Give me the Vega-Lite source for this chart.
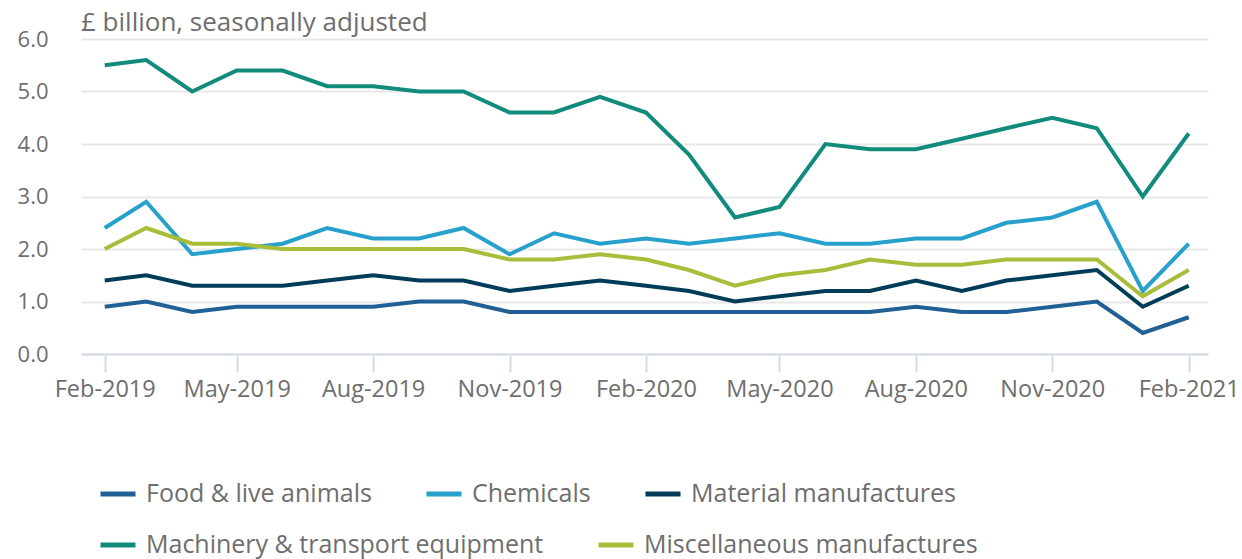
{
  "$schema": "https://vega.github.io/schema/vega-lite/v6.json",
  "autosize": {"type": "none"},
  "width": 1127,
  "height": 315,
  "padding": {"left": 81, "top": 39, "right": 34, "bottom": 205},
  "background": "white",
  "config": {
    "font": "Open Sans",
    "view": {"stroke": null},
    "title": {"font": "Open Sans"},
    "axis": {"labelFont": "Open Sans"},
    "legend": {
      "labelFont": "Open Sans",
      "title": null,
      "symbolType": "stroke",
      "symbolSize": 1225,
      "symbolStrokeWidth": 5,
      "labelOffset": 8,
      "labelFontSize": 25,
      "labelLimit": 0,
      "labelColor": "#6e6e6e",
      "columnPadding": 44,
      "padding": 0
    }
  },
  "title": {
    "text": "£ billion, seasonally adjusted",
    "anchor": "start",
    "frame": "group",
    "orient": "top",
    "baseline": "alphabetic",
    "offset": -29,
    "fontSize": 26,
    "fontWeight": "normal",
    "color": "#6e6e6e"
  },
  "data": {
    "values": [
      {"d": "2019-02-01", "s": "Food & live animals", "v": 0.9},
      {"d": "2019-03-01", "s": "Food & live animals", "v": 1.0},
      {"d": "2019-04-01", "s": "Food & live animals", "v": 0.8},
      {"d": "2019-05-01", "s": "Food & live animals", "v": 0.9},
      {"d": "2019-06-01", "s": "Food & live animals", "v": 0.9},
      {"d": "2019-07-01", "s": "Food & live animals", "v": 0.9},
      {"d": "2019-08-01", "s": "Food & live animals", "v": 0.9},
      {"d": "2019-09-01", "s": "Food & live animals", "v": 1.0},
      {"d": "2019-10-01", "s": "Food & live animals", "v": 1.0},
      {"d": "2019-11-01", "s": "Food & live animals", "v": 0.8},
      {"d": "2019-12-01", "s": "Food & live animals", "v": 0.8},
      {"d": "2020-01-01", "s": "Food & live animals", "v": 0.8},
      {"d": "2020-02-01", "s": "Food & live animals", "v": 0.8},
      {"d": "2020-03-01", "s": "Food & live animals", "v": 0.8},
      {"d": "2020-04-01", "s": "Food & live animals", "v": 0.8},
      {"d": "2020-05-01", "s": "Food & live animals", "v": 0.8},
      {"d": "2020-06-01", "s": "Food & live animals", "v": 0.8},
      {"d": "2020-07-01", "s": "Food & live animals", "v": 0.8},
      {"d": "2020-08-01", "s": "Food & live animals", "v": 0.9},
      {"d": "2020-09-01", "s": "Food & live animals", "v": 0.8},
      {"d": "2020-10-01", "s": "Food & live animals", "v": 0.8},
      {"d": "2020-11-01", "s": "Food & live animals", "v": 0.9},
      {"d": "2020-12-01", "s": "Food & live animals", "v": 1.0},
      {"d": "2021-01-01", "s": "Food & live animals", "v": 0.4},
      {"d": "2021-02-01", "s": "Food & live animals", "v": 0.7},
      {"d": "2019-02-01", "s": "Chemicals", "v": 2.4},
      {"d": "2019-03-01", "s": "Chemicals", "v": 2.9},
      {"d": "2019-04-01", "s": "Chemicals", "v": 1.9},
      {"d": "2019-05-01", "s": "Chemicals", "v": 2.0},
      {"d": "2019-06-01", "s": "Chemicals", "v": 2.1},
      {"d": "2019-07-01", "s": "Chemicals", "v": 2.4},
      {"d": "2019-08-01", "s": "Chemicals", "v": 2.2},
      {"d": "2019-09-01", "s": "Chemicals", "v": 2.2},
      {"d": "2019-10-01", "s": "Chemicals", "v": 2.4},
      {"d": "2019-11-01", "s": "Chemicals", "v": 1.9},
      {"d": "2019-12-01", "s": "Chemicals", "v": 2.3},
      {"d": "2020-01-01", "s": "Chemicals", "v": 2.1},
      {"d": "2020-02-01", "s": "Chemicals", "v": 2.2},
      {"d": "2020-03-01", "s": "Chemicals", "v": 2.1},
      {"d": "2020-04-01", "s": "Chemicals", "v": 2.2},
      {"d": "2020-05-01", "s": "Chemicals", "v": 2.3},
      {"d": "2020-06-01", "s": "Chemicals", "v": 2.1},
      {"d": "2020-07-01", "s": "Chemicals", "v": 2.1},
      {"d": "2020-08-01", "s": "Chemicals", "v": 2.2},
      {"d": "2020-09-01", "s": "Chemicals", "v": 2.2},
      {"d": "2020-10-01", "s": "Chemicals", "v": 2.5},
      {"d": "2020-11-01", "s": "Chemicals", "v": 2.6},
      {"d": "2020-12-01", "s": "Chemicals", "v": 2.9},
      {"d": "2021-01-01", "s": "Chemicals", "v": 1.2},
      {"d": "2021-02-01", "s": "Chemicals", "v": 2.1},
      {"d": "2019-02-01", "s": "Material manufactures", "v": 1.4},
      {"d": "2019-03-01", "s": "Material manufactures", "v": 1.5},
      {"d": "2019-04-01", "s": "Material manufactures", "v": 1.3},
      {"d": "2019-05-01", "s": "Material manufactures", "v": 1.3},
      {"d": "2019-06-01", "s": "Material manufactures", "v": 1.3},
      {"d": "2019-07-01", "s": "Material manufactures", "v": 1.4},
      {"d": "2019-08-01", "s": "Material manufactures", "v": 1.5},
      {"d": "2019-09-01", "s": "Material manufactures", "v": 1.4},
      {"d": "2019-10-01", "s": "Material manufactures", "v": 1.4},
      {"d": "2019-11-01", "s": "Material manufactures", "v": 1.2},
      {"d": "2019-12-01", "s": "Material manufactures", "v": 1.3},
      {"d": "2020-01-01", "s": "Material manufactures", "v": 1.4},
      {"d": "2020-02-01", "s": "Material manufactures", "v": 1.3},
      {"d": "2020-03-01", "s": "Material manufactures", "v": 1.2},
      {"d": "2020-04-01", "s": "Material manufactures", "v": 1.0},
      {"d": "2020-05-01", "s": "Material manufactures", "v": 1.1},
      {"d": "2020-06-01", "s": "Material manufactures", "v": 1.2},
      {"d": "2020-07-01", "s": "Material manufactures", "v": 1.2},
      {"d": "2020-08-01", "s": "Material manufactures", "v": 1.4},
      {"d": "2020-09-01", "s": "Material manufactures", "v": 1.2},
      {"d": "2020-10-01", "s": "Material manufactures", "v": 1.4},
      {"d": "2020-11-01", "s": "Material manufactures", "v": 1.5},
      {"d": "2020-12-01", "s": "Material manufactures", "v": 1.6},
      {"d": "2021-01-01", "s": "Material manufactures", "v": 0.9},
      {"d": "2021-02-01", "s": "Material manufactures", "v": 1.3},
      {"d": "2019-02-01", "s": "Machinery & transport equipment", "v": 5.5},
      {"d": "2019-03-01", "s": "Machinery & transport equipment", "v": 5.6},
      {"d": "2019-04-01", "s": "Machinery & transport equipment", "v": 5.0},
      {"d": "2019-05-01", "s": "Machinery & transport equipment", "v": 5.4},
      {"d": "2019-06-01", "s": "Machinery & transport equipment", "v": 5.4},
      {"d": "2019-07-01", "s": "Machinery & transport equipment", "v": 5.1},
      {"d": "2019-08-01", "s": "Machinery & transport equipment", "v": 5.1},
      {"d": "2019-09-01", "s": "Machinery & transport equipment", "v": 5.0},
      {"d": "2019-10-01", "s": "Machinery & transport equipment", "v": 5.0},
      {"d": "2019-11-01", "s": "Machinery & transport equipment", "v": 4.6},
      {"d": "2019-12-01", "s": "Machinery & transport equipment", "v": 4.6},
      {"d": "2020-01-01", "s": "Machinery & transport equipment", "v": 4.9},
      {"d": "2020-02-01", "s": "Machinery & transport equipment", "v": 4.6},
      {"d": "2020-03-01", "s": "Machinery & transport equipment", "v": 3.8},
      {"d": "2020-04-01", "s": "Machinery & transport equipment", "v": 2.6},
      {"d": "2020-05-01", "s": "Machinery & transport equipment", "v": 2.8},
      {"d": "2020-06-01", "s": "Machinery & transport equipment", "v": 4.0},
      {"d": "2020-07-01", "s": "Machinery & transport equipment", "v": 3.9},
      {"d": "2020-08-01", "s": "Machinery & transport equipment", "v": 3.9},
      {"d": "2020-09-01", "s": "Machinery & transport equipment", "v": 4.1},
      {"d": "2020-10-01", "s": "Machinery & transport equipment", "v": 4.3},
      {"d": "2020-11-01", "s": "Machinery & transport equipment", "v": 4.5},
      {"d": "2020-12-01", "s": "Machinery & transport equipment", "v": 4.3},
      {"d": "2021-01-01", "s": "Machinery & transport equipment", "v": 3.0},
      {"d": "2021-02-01", "s": "Machinery & transport equipment", "v": 4.2},
      {"d": "2019-02-01", "s": "Miscellaneous manufactures", "v": 2.0},
      {"d": "2019-03-01", "s": "Miscellaneous manufactures", "v": 2.4},
      {"d": "2019-04-01", "s": "Miscellaneous manufactures", "v": 2.1},
      {"d": "2019-05-01", "s": "Miscellaneous manufactures", "v": 2.1},
      {"d": "2019-06-01", "s": "Miscellaneous manufactures", "v": 2.0},
      {"d": "2019-07-01", "s": "Miscellaneous manufactures", "v": 2.0},
      {"d": "2019-08-01", "s": "Miscellaneous manufactures", "v": 2.0},
      {"d": "2019-09-01", "s": "Miscellaneous manufactures", "v": 2.0},
      {"d": "2019-10-01", "s": "Miscellaneous manufactures", "v": 2.0},
      {"d": "2019-11-01", "s": "Miscellaneous manufactures", "v": 1.8},
      {"d": "2019-12-01", "s": "Miscellaneous manufactures", "v": 1.8},
      {"d": "2020-01-01", "s": "Miscellaneous manufactures", "v": 1.9},
      {"d": "2020-02-01", "s": "Miscellaneous manufactures", "v": 1.8},
      {"d": "2020-03-01", "s": "Miscellaneous manufactures", "v": 1.6},
      {"d": "2020-04-01", "s": "Miscellaneous manufactures", "v": 1.3},
      {"d": "2020-05-01", "s": "Miscellaneous manufactures", "v": 1.5},
      {"d": "2020-06-01", "s": "Miscellaneous manufactures", "v": 1.6},
      {"d": "2020-07-01", "s": "Miscellaneous manufactures", "v": 1.8},
      {"d": "2020-08-01", "s": "Miscellaneous manufactures", "v": 1.7},
      {"d": "2020-09-01", "s": "Miscellaneous manufactures", "v": 1.7},
      {"d": "2020-10-01", "s": "Miscellaneous manufactures", "v": 1.8},
      {"d": "2020-11-01", "s": "Miscellaneous manufactures", "v": 1.8},
      {"d": "2020-12-01", "s": "Miscellaneous manufactures", "v": 1.8},
      {"d": "2021-01-01", "s": "Miscellaneous manufactures", "v": 1.1},
      {"d": "2021-02-01", "s": "Miscellaneous manufactures", "v": 1.6}
    ]
  },
  "encoding": {
    "x": {
      "field": "d",
      "type": "temporal",
      "scale": {
        "type": "utc",
        "domain": [
          {"year": 2019, "month": 1, "date": 16, "utc": true},
          {"year": 2021, "month": 2, "date": 14, "utc": true}
        ]
      },
      "axis": {
        "title": null,
        "format": "%b-%Y",
        "values": [
          {"year": 2019, "month": 2, "date": 1, "utc": true},
          {"year": 2019, "month": 5, "date": 1, "utc": true},
          {"year": 2019, "month": 8, "date": 1, "utc": true},
          {"year": 2019, "month": 11, "date": 1, "utc": true},
          {"year": 2020, "month": 2, "date": 1, "utc": true},
          {"year": 2020, "month": 5, "date": 1, "utc": true},
          {"year": 2020, "month": 8, "date": 1, "utc": true},
          {"year": 2020, "month": 11, "date": 1, "utc": true},
          {"year": 2021, "month": 2, "date": 1, "utc": true}
        ],
        "grid": false,
        "domainColor": "#d5dce6",
        "domainWidth": 2,
        "tickColor": "#d5dce6",
        "tickWidth": 2,
        "tickSize": 18,
        "labelPadding": 5,
        "labelFontSize": 23.5,
        "labelColor": "#6e6e6e",
        "labelFlush": false,
        "labelOverlap": false
      }
    },
    "y": {
      "field": "v",
      "type": "quantitative",
      "scale": {"domain": [0, 6], "nice": false, "zero": true},
      "axis": {
        "title": null,
        "values": [0, 1, 2, 3, 4, 5, 6],
        "format": ".1f",
        "ticks": false,
        "domain": false,
        "gridColor": "#e8e8e8",
        "gridWidth": 2,
        "labelPadding": 33,
        "labelFontSize": 22,
        "labelColor": "#6e6e6e"
      }
    }
  },
  "layer": [
    {
      "transform": [{"filter": {"field": "s", "oneOf": ["Food & live animals", "Chemicals", "Material manufactures"]}}],
      "mark": {"type": "line", "strokeWidth": 4, "strokeJoin": "miter", "strokeCap": "butt"},
      "encoding": {
        "color": {
          "field": "s",
          "type": "nominal",
          "scale": {
            "domain": ["Food & live animals", "Chemicals", "Material manufactures"],
            "range": ["#206095", "#27a0cc", "#003c57"]
          },
          "legend": {
            "orient": "none",
            "direction": "horizontal",
            "legendX": 17,
            "legendY": 435
          }
        }
      }
    },
    {
      "transform": [{"filter": {"field": "s", "oneOf": ["Machinery & transport equipment", "Miscellaneous manufactures"]}}],
      "mark": {"type": "line", "strokeWidth": 4, "strokeJoin": "miter", "strokeCap": "butt"},
      "encoding": {
        "stroke": {
          "field": "s",
          "type": "nominal",
          "scale": {
            "domain": ["Machinery & transport equipment", "Miscellaneous manufactures"],
            "range": ["#118c7b", "#a8bd3a"]
          },
          "legend": {
            "orient": "none",
            "direction": "horizontal",
            "legendX": 17,
            "legendY": 486
          }
        }
      }
    }
  ]
}
